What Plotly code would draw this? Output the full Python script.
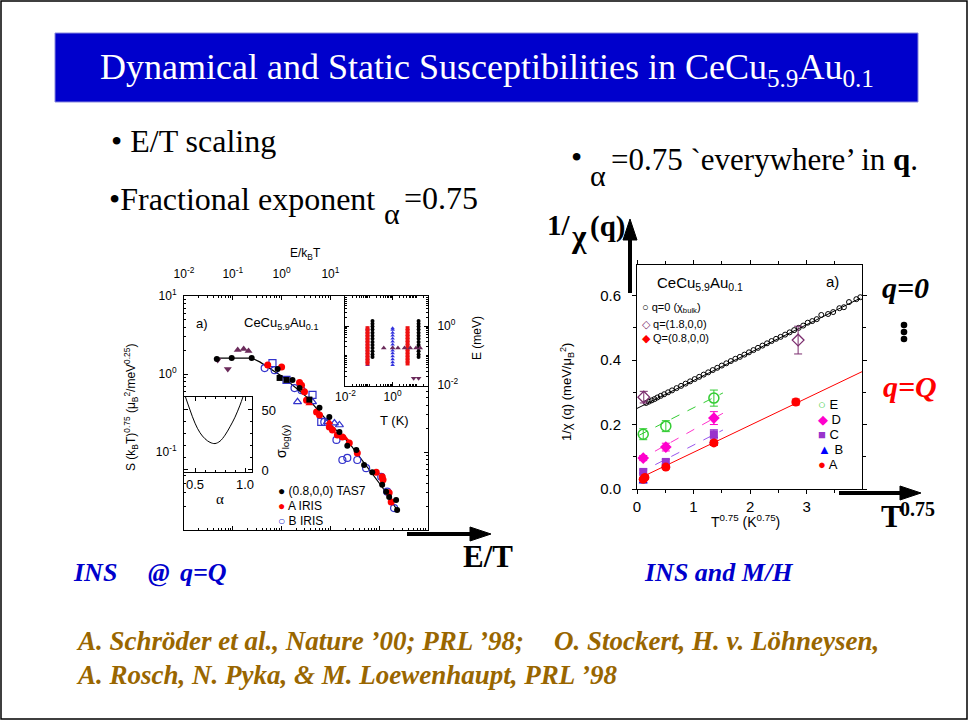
import plotly.graph_objects as go

W, H = 969, 723


def X(px):
    return px / W


def Y(py):
    return 1 - py / H


SERIF = "Liberation Serif"
SANS = "Liberation Sans"

# ---------------- left panel: S (kBT)^0.75 versus E/kBT ----------------
scale_x = [0.047, 0.244, 0.356, 1.05, 3.24, 9.5, 24.4, 54, 115, 233]
scale_y = [1.6, 1.6, 1.43, 0.92, 0.51, 0.235, 0.130, 0.068, 0.0356, 0.018]

tas7_x = [0.047, 0.095, 0.244, 0.83, 1.67, 2.33, 5.97, 9.5, 15.3, 22.2, 34, 49, 72, 115, 139, 160, 222, 233]
tas7_y = [1.56, 1.60, 1.60, 1.16, 0.84, 0.66, 0.37, 0.281, 0.180, 0.12, 0.106, 0.068, 0.055, 0.038, 0.031, 0.0265, 0.0243, 0.018]
tas7_sq_x = [0.91, 1.26, 3.7]
tas7_sq_y = [0.89, 0.84, 0.47]

irisA_x = [0.52, 1.0, 2.33, 2.56, 2.94, 3.24, 5.2, 5.97, 9.5, 11, 13.9, 17.6, 24.4, 35.6, 87, 115, 120, 160, 176]
irisA_y = [1.30, 1.23, 0.78, 0.72, 0.59, 0.46, 0.326, 0.298, 0.209, 0.191, 0.165, 0.156, 0.130, 0.097, 0.055, 0.048, 0.044, 0.030, 0.0229]
irisA_tri_x = [3.7, 9.5, 20]
irisA_tri_y = [0.42, 0.24, 0.15]

irisB_x = [0.45, 0.72, 1.84, 2.56, 7.5, 13.3, 17.6, 22.2, 35.6, 54, 110, 146, 202]
irisB_y = [1.19, 1.12, 0.66, 0.62, 0.243, 0.143, 0.079, 0.084, 0.079, 0.062, 0.048, 0.031, 0.0191]
irisB_sq_x = [0.65, 1.26, 4.3, 6.5]
irisB_sq_y = [1.38, 0.84, 0.54, 0.243]
irisB_tri_x = [2.12, 4.3, 8.7, 12.1, 15.3]
irisB_tri_y = [0.44, 0.44, 0.243, 0.235, 0.222]

low_dn_x = [0.049, 0.079]
low_dn_y = [1.51, 1.16]
low_up_x = [0.126, 0.167, 0.21]
low_up_y = [2.03, 2.09, 1.97]

# inset: quality of the scaling collapse versus exponent alpha
alpha_vals = [0.40, 0.45, 0.50, 0.55, 0.60, 0.65, 0.70, 0.75, 0.80, 0.85, 0.90, 0.95, 0.98]
sigma_vals = [62, 50, 39, 31, 26, 23, 22, 24, 29, 36, 44, 54, 61]

# inset: measured (T, E) windows
irisB_T = [0.086, 1.0]
irisB_E = [0.048, 0.06, 0.075, 0.095, 0.12, 0.15, 0.19, 0.24, 0.30, 0.38, 0.48, 0.6, 0.75, 0.85]
irisA_T = [0.086, 4.3]
irisA_E = [0.054, 0.068, 0.085, 0.107, 0.135, 0.17, 0.21, 0.27, 0.34, 0.43, 0.54, 0.68, 0.85]
tas7_T = [0.14, 12.6]
tas7_E = [0.09, 0.11, 0.14, 0.18, 0.23, 0.29, 0.37, 0.47, 0.6, 0.76, 0.96, 1.2, 1.5]
fixedE_T = [0.42, 1.0, 1.68, 3.2, 5.6, 9.8, 14.7]
fixedE_E = 0.18
lowE_T = [7.8, 12.6]
lowE_E = 0.017

# ---------------- right panel: 1/chi(q) versus T^0.75 ----------------
bulk_x = [0.16, 0.21, 0.26, 0.31, 0.36, 0.42, 0.48, 0.55, 0.62, 0.70, 0.78, 0.86, 0.94, 1.02, 1.10,
          1.18, 1.26, 1.34, 1.42, 1.50, 1.58, 1.66, 1.74, 1.82, 1.90, 1.98, 2.06, 2.14, 2.22, 2.30,
          2.38, 2.46, 2.54, 2.62, 2.70, 2.78, 2.86, 2.94, 3.02, 3.10, 3.18, 3.26, 3.38, 3.47, 3.58,
          3.66, 3.75, 3.88, 3.95]
bulk_y = [0.267, 0.271, 0.275, 0.279, 0.284, 0.289, 0.294, 0.300, 0.306, 0.313, 0.320, 0.327, 0.334, 0.341, 0.348,
          0.355, 0.362, 0.369, 0.376, 0.383, 0.390, 0.397, 0.404, 0.410, 0.417, 0.424, 0.431, 0.438, 0.445, 0.452,
          0.459, 0.466, 0.472, 0.479, 0.486, 0.493, 0.500, 0.507, 0.516, 0.521, 0.527, 0.540, 0.543, 0.549, 0.561,
          0.564, 0.580, 0.589, 0.595]
bulk_fit_x = [0.0, 3.95]
bulk_fit_y = [0.250, 0.592]

q18_x = [0.12, 2.85]
q18_y = [0.285, 0.462]
q18_err = [0.018, 0.043]

scan_x = [0.11, 0.51, 1.36]
E_y = [0.170, 0.195, 0.282]
E_err = [0.017, 0.017, 0.025]
D_y = [0.096, 0.130, 0.220]
D_err = [0.008, 0.012, 0.020]
C_y = [0.053, 0.084, 0.170]
C_err = [0.006, 0.008, 0.014]
B_y = [0.024, 0.072, 0.150]
B_err = [0.005, 0.006, 0.010]
A_x = [0.11, 0.14, 0.51, 1.36, 2.81]
A_y = [0.030, 0.036, 0.068, 0.143, 0.270]
A_err = [0.005, 0.005, 0.006, 0.008, 0.009]

fit_x = [0.04, 1.52]
E_fit = [0.167, 0.298]
D_fit = [0.090, 0.235]
C_fit = [0.050, 0.183]
A_fit_x = [0.05, 3.98]
A_fit_y = [0.034, 0.364]

PURPLE = "#6B2B5B"
BLUE = "#3333CC"

fig = go.Figure()


def sc(x, y, ax, **kw):
    fig.add_trace(go.Scatter(x=x, y=y, xaxis="x" + ax, yaxis="y" + ax, showlegend=False,
                             hoverinfo="skip", **kw))


# main panel
sc(scale_x, scale_y, "", mode="lines", line=dict(color="black", width=1.2))
sc(low_dn_x, low_dn_y, "", mode="markers", marker=dict(symbol="triangle-down", size=7, color=PURPLE))
sc(low_up_x, low_up_y, "", mode="markers", marker=dict(symbol="triangle-up", size=7, color=PURPLE))
sc(irisB_x, irisB_y, "", mode="markers", marker=dict(symbol="circle-open", size=7, color=BLUE, line=dict(width=1.2)))
sc(irisB_sq_x, irisB_sq_y, "", mode="markers", marker=dict(symbol="square-open", size=7, color=BLUE, line=dict(width=1.2)))
sc(irisB_tri_x, irisB_tri_y, "", mode="markers", marker=dict(symbol="triangle-up-open", size=7, color=BLUE, line=dict(width=1.2)))
sc(irisA_x, irisA_y, "", mode="markers", marker=dict(symbol="circle", size=7, color="#FF0000"))
sc(irisA_tri_x, irisA_tri_y, "", mode="markers", marker=dict(symbol="triangle-up", size=7, color="#FF0000"))
sc(tas7_x, tas7_y, "", mode="markers", marker=dict(symbol="circle", size=6, color="black"))
sc(tas7_sq_x, tas7_sq_y, "", mode="markers", marker=dict(symbol="square", size=6, color="black"))

# alpha inset
sc(alpha_vals, sigma_vals, "2", mode="lines", line=dict(color="black", width=1), line_shape="spline")

# (T, E) inset
sc([t for t in irisB_T for _ in irisB_E], [e for _ in irisB_T for e in irisB_E], "3", mode="markers",
   marker=dict(symbol="triangle-up", size=4, color="#3333DD"))
sc([t for t in irisA_T for _ in irisA_E], [e for _ in irisA_T for e in irisA_E], "3", mode="markers",
   marker=dict(symbol="square", size=4, color="#EE1111"))
sc([t for t in tas7_T for _ in tas7_E], [e for _ in tas7_T for e in tas7_E], "3", mode="markers",
   marker=dict(symbol="circle", size=4, color="black"))
sc(fixedE_T, [fixedE_E] * len(fixedE_T), "3", mode="markers", marker=dict(symbol="triangle-up", size=5, color=PURPLE))
sc(lowE_T, [lowE_E] * len(lowE_T), "3", mode="markers", marker=dict(symbol="triangle-down", size=5, color=PURPLE))

# right panel
sc(bulk_fit_x, bulk_fit_y, "4", mode="lines", line=dict(color="black", width=1))
sc(bulk_x, bulk_y, "4", mode="markers", marker=dict(symbol="circle-open", size=5, color="black", line=dict(width=1)))
sc(q18_x, q18_y, "4", mode="markers", marker=dict(symbol="diamond-open", size=9, color="#7B2D6E", line=dict(width=1.3)),
   error_y=dict(type="data", array=q18_err, color="#7B2D6E", thickness=1, width=4))
sc(A_fit_x, A_fit_y, "4", mode="lines", line=dict(color="#FF0000", width=1))
sc(fit_x, E_fit, "4", mode="lines", line=dict(color="#33CC33", width=1, dash="dash"))
sc(fit_x, D_fit, "4", mode="lines", line=dict(color="#FF33CC", width=1, dash="dash"))
sc(fit_x, C_fit, "4", mode="lines", line=dict(color="#9955EE", width=1, dash="dash"))
sc(scan_x, B_y, "4", mode="markers", marker=dict(symbol="triangle-up", size=8, color="#0000FF"),
   error_y=dict(type="data", array=B_err, color="#0000FF", thickness=1, width=4))
sc(scan_x, C_y, "4", mode="markers", marker=dict(symbol="square", size=8, color="#9933CC"),
   error_y=dict(type="data", array=C_err, color="#9933CC", thickness=1, width=4))
sc(scan_x, D_y, "4", mode="markers", marker=dict(symbol="diamond", size=9, color="#FF00CC"),
   error_y=dict(type="data", array=D_err, color="#FF00CC", thickness=1, width=4))
sc(scan_x, E_y, "4", mode="markers", marker=dict(symbol="circle-open", size=10, color="#33CC33", line=dict(width=1.5)),
   error_y=dict(type="data", array=E_err, color="#33CC33", thickness=1, width=4))
sc(A_x, A_y, "4", mode="markers", marker=dict(symbol="circle", size=9, color="#FF0000"),
   error_y=dict(type="data", array=A_err, color="#FF0000", thickness=1, width=4))


def axis(**kw):
    base = dict(showgrid=False, zeroline=False, showline=True, linecolor="black", linewidth=1,
                mirror="ticks", ticks="inside", tickcolor="black", ticklen=4, tickwidth=1, automargin=False,
                tickfont=dict(family=SANS, size=12, color="black"))
    base.update(kw)
    return base


def p10(e):
    return "10<sup>%s</sup>" % e


minor_log = dict(ticks="inside", ticklen=2, tickcolor="black", dtick="D1", showgrid=False)

layout_axes = dict(
    xaxis=axis(domain=[X(184), X(428)], type="log", range=[-2, 3], side="top", anchor="y",
               tickvals=[0.01, 0.1, 1, 10, 100, 1000], ticktext=[p10(-2), p10(-1), p10(0), p10(1), "", ""],
               ticklabelstandoff=12, minor=minor_log),
    yaxis=axis(domain=[Y(530), Y(296)], type="log", range=[-2, 1], anchor="x",
               tickvals=[0.01, 0.1, 1, 10], ticktext=["", p10(-1), p10(0), p10(1)],
               ticklabelstandoff=4, minor=minor_log),
    xaxis2=axis(domain=[X(184), X(252)], range=[0.39, 1.07], anchor="y2",
                tickvals=[0.5, 1.0], ticktext=["0.5", "1.0"], tickfont=dict(family=SANS, size=13, color="black"),
                minor=dict(ticks="inside", ticklen=2, dtick=0.1, tickcolor="black")),
    yaxis2=axis(domain=[Y(472), Y(397)], range=[-1.7, 60.8], anchor="x2", side="right",
                tickvals=[0, 50], tickfont=dict(family=SANS, size=13, color="black"), ticklabelstandoff=6,
                minor=dict(ticks="inside", ticklen=2, dtick=10, tickcolor="black")),
    xaxis3=axis(domain=[X(345), X(428)], type="log", range=[-2.02, 1.5], anchor="y3",
                tickvals=[0.01, 1], ticktext=[p10(-2), p10(0)], minor=minor_log),
    yaxis3=axis(domain=[Y(386), Y(296)], type="log", range=[-2.03, 1.02], anchor="x3", side="right",
                tickvals=[0.01, 1], ticktext=[p10(-2), p10(0)], ticklabelstandoff=6, minor=minor_log),
    xaxis4=axis(domain=[X(637), X(862)], range=[0, 3.98], anchor="y4", ticks="outside",
                tickvals=[0, 1, 2, 3], tickfont=dict(family=SANS, size=15, color="black"),
                minor=dict(ticks="outside", ticklen=3, dtick=0.5, tickcolor="black")),
    yaxis4=axis(domain=[Y(489), Y(265)], range=[0, 0.695], anchor="x4", ticks="outside",
                tickvals=[0, 0.2, 0.4, 0.6], ticktext=["0.0", "0.2", "0.4", "0.6"], ticklabelstandoff=8,
                tickfont=dict(family=SANS, size=15, color="black"),
                minor=dict(ticks="outside", ticklen=3, dtick=0.1, tickcolor="black")),
)

ann = []


def txt(x, y, text, size, family=SANS, color="black", xanchor="center", angle=0, **kw):
    ann.append(dict(x=X(x), y=Y(y), xref="paper", yref="paper", text=text, showarrow=False,
                    xanchor=xanchor, yanchor="middle", textangle=angle,
                    font=dict(family=family, size=size, color=color), **kw))


# slide text
txt(487, 69, "Dynamical and Static Susceptibilities in CeCu<sub>5.9</sub>Au<sub>0.1</sub>", 36, SERIF, "white")
txt(109, 141, "• E/T scaling", 32, SERIF, xanchor="left")
txt(107, 199, "•Fractional exponent", 32, SERIF, xanchor="left")
txt(392, 213, "α", 30, SERIF)
txt(402, 198, "=0.75", 32, SERIF, xanchor="left")
txt(576, 157, "•", 32, SERIF)
txt(598, 175, "α", 30, SERIF)
txt(609, 159, "=0.75 `everywhere’ in <b>q</b>.", 31, SERIF, xanchor="left")

txt(545, 225, "<b>1/</b>", 29, SERIF, xanchor="left")
txt(579, 237, "<b>χ</b>", 31, SERIF)
txt(588, 226, "<b>(q)</b>", 29, SERIF, xanchor="left")
txt(905, 288, "<b><i>q=0</i></b>", 30, SERIF)
txt(910, 386, "<b><i>q=Q</i></b>", 30, SERIF, color="#FF0000")
txt(879, 516, "<b>T</b>", 31, SERIF, xanchor="left")
txt(898, 509, "<b>0.75</b>", 20, SERIF, xanchor="left")
txt(488, 556, "<b>E/T</b>", 31, SERIF)

BLU = "#0000CC"
txt(71, 572, "<b><i>INS</i></b>", 26, SERIF, BLU, xanchor="left")
txt(146, 572, "<b><i>@</i></b>", 26, SERIF, BLU, xanchor="left")
txt(178, 572, "<b><i>q=Q</i></b>", 26, SERIF, BLU, xanchor="left")
txt(718, 572, "<b><i>INS and M/H</i></b>", 26, SERIF, BLU)

REF = "#996600"
txt(74, 641, "<b><i>A. Schröder et al., Nature ’00; PRL ’98;</i></b>", 27, SERIF, REF, xanchor="left")
txt(552, 641, "<b><i>O. Stockert, H. v. Löhneysen,</i></b>", 27, SERIF, REF, xanchor="left")
txt(74, 675, "<b><i>A. Rosch, N. Pyka, &amp; M. Loewenhaupt, PRL ’98</i></b>", 27, SERIF, REF, xanchor="left")

# left panel labels
txt(305, 254, "E/k<sub>B</sub>T", 12)
txt(202, 323, "a)", 13)
txt(281, 323, "CeCu<sub>5.9</sub>Au<sub>0.1</sub>", 13)
txt(131, 408, "S (k<sub>B</sub>T)<sup>0.75</sup> (μ<sub>B</sub><sup>2</sup>/meV<sup>0.25</sup>)", 12, angle=-90)
txt(282, 442, "σ<sub>log(y)</sub>", 14, angle=-90)
txt(220, 499, "α", 15, SERIF)
txt(394, 420, "T (K)", 13)
txt(477, 338, "E (meV)", 12, angle=-90)
txt(276, 491, "● (0.8,0,0) TAS7", 12, xanchor="left")
txt(276, 506, "<span style='color:#FF0000'>●</span> A IRIS", 12, xanchor="left")
txt(276, 521, "<span style='color:#3333CC'>○</span> B IRIS", 12, xanchor="left")

# right panel labels
txt(655, 284, "CeCu<sub>5.9</sub>Au<sub>0.1</sub>", 15, xanchor="left")
txt(832, 282, "a)", 15)
txt(640, 308, "○ q=0 (χ<sub>bulk</sub>)", 11, xanchor="left")
txt(640, 324, "<span style='color:#7B2D6E'>◇</span> q=(1.8,0,0)", 11, xanchor="left")
txt(640, 338, "<span style='color:#FF0000'>◆</span> Q=(0.8,0,0)", 11, xanchor="left")
txt(567, 392, "1/χ (q) (meV/μ<sub>B</sub><sup>2</sup>)", 13, angle=-90)
txt(745, 521, "T<sup>0.75</sup> (K<sup>0.75</sup>)", 14)
txt(816, 404, "<span style='color:#33CC33'>○</span> E", 13, xanchor="left")
txt(816, 419, "<span style='color:#FF00CC'>◆</span> D", 13, xanchor="left")
txt(816, 434, "<span style='color:#9933CC'>■</span> C", 13, xanchor="left")
txt(816, 449, "<span style='color:#0000FF'>▲</span> B", 13, xanchor="left")
txt(816, 464, "<span style='color:#FF0000'>●</span> A", 13, xanchor="left")

shapes = []


def rect(x0, y0, x1, y1, **kw):
    shapes.append(dict(type="rect", xref="paper", yref="paper", x0=X(x0), x1=X(x1), y0=Y(y1), y1=Y(y0), **kw))


def line(x0, y0, x1, y1, width=4):
    shapes.append(dict(type="line", xref="paper", yref="paper", x0=X(x0), y0=Y(y0), x1=X(x1), y1=Y(y1),
                       line=dict(color="black", width=width)))


def tri(pts):
    path = "M " + " L ".join("%.5f,%.5f" % (X(a), Y(b)) for a, b in pts) + " Z"
    shapes.append(dict(type="path", xref="paper", yref="paper", path=path, fillcolor="black",
                       line=dict(color="black", width=1)))


def dot(cx, cy, r):
    shapes.append(dict(type="circle", xref="paper", yref="paper", x0=X(cx - r), x1=X(cx + r),
                       y0=Y(cy + r), y1=Y(cy - r), fillcolor="black", line=dict(color="black", width=0)))


rect(1, 1, 967, 719, line=dict(color="black", width=1.5), layer="below")
rect(55, 33, 918, 102, fillcolor="#0000CC", line=dict(color="#8888DD", width=1), layer="below")

# arrows
line(630, 293, 630, 238)
tri([(623, 240), (637, 240), (630, 219)])
line(839, 493, 902, 493)
tri([(900, 486), (900, 500), (921, 493)])
line(407, 534, 472, 534)
tri([(470, 527), (470, 541), (491, 534)])

for cy in (325, 332, 339):
    dot(904, cy, 3.3)

fig.update_layout(
    template="none",
    width=W, height=H, margin=dict(l=0, r=0, t=0, b=0, pad=0, autoexpand=False),
    paper_bgcolor="white", plot_bgcolor="white", showlegend=False,
    annotations=ann, shapes=shapes, **layout_axes,
)

# the page body keeps no margin so the slide fills the window
fig.write_html("out.html", post_script="document.body.style.margin='0px';")
